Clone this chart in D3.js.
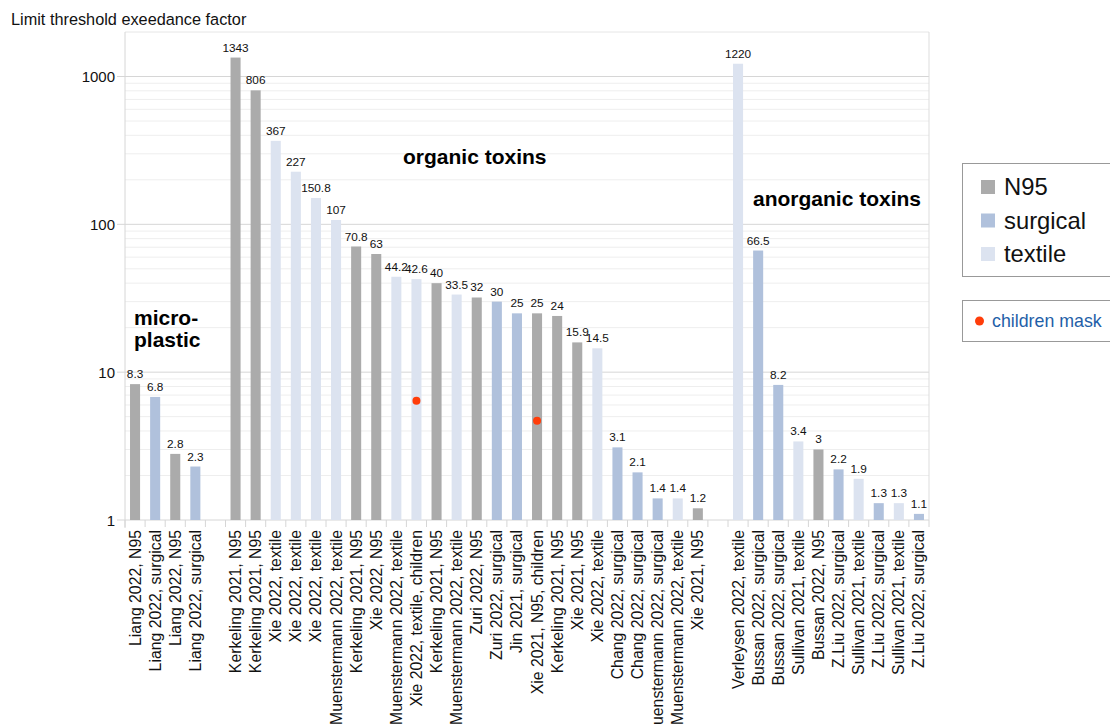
<!DOCTYPE html>
<html>
<head>
<meta charset="utf-8">
<script src="https://cdn.jsdelivr.net/npm/d3@7"></script>
<style>
body { margin: 0; background: #fff; font-family: "Liberation Sans", Arial, sans-serif; }
</style>
</head>
<body>
<div id="chart"></div>
<script>
// data
let labels = [
  "Liang 2022, N95", "Liang 2022, surgical", "Liang 2022, N95", "Liang 2022, surgical", "",
  "Kerkeling 2021, N95", "Kerkeling 2021, N95", "Xie 2022, textile", "Xie 2022, textile", "Xie 2022, textile",
  "Muenstermann 2022, textile", "Kerkeling 2021, N95", "Xie 2022, N95", "Muenstermann 2022, textile",
  "Xie 2022, textile, children", "Kerkeling 2021, N95", "Muenstermann 2022, textile", "Zuri 2022, N95",
  "Zuri 2022, surgical", "Jin 2021, surgical", "Xie 2021, N95, children", "Kerkeling 2021, N95",
  "Xie 2021, N95", "Xie 2022, textile", "Chang 2022, surgical", "Chang 2022, surgical",
  "Muenstermann 2022, surgical", "Muenstermann 2022, textile", "Xie 2021, N95", "",
  "Verleysen 2022, textile", "Bussan 2022, surgical", "Bussan 2022, surgical", "Sullivan 2021, textile",
  "Bussan 2022, N95", "Z.Liu 2022, surgical", "Sullivan 2021, textile", "Z.Liu 2022, surgical",
  "Sullivan 2021, textile", "Z.Liu 2022, surgical"
];
let values = [
  8.3, 6.8, 2.8, 2.3, null,
  1343, 806, 367, 227, 150.8, 107, 70.8, 63, 44.2, 42.6, 40, 33.5, 32, 30, 25, 25, 24, 15.9, 14.5,
  3.1, 2.1, 1.4, 1.4, 1.2, null,
  1220, 66.5, 8.2, 3.4, 3, 2.2, 1.9, 1.3, 1.3, 1.1
];
let valueText = [
  "8.3", "6.8", "2.8", "2.3", "",
  "1343", "806", "367", "227", "150.8", "107", "70.8", "63", "44.2", "42.6", "40", "33.5", "32", "30",
  "25", "25", "24", "15.9", "14.5", "3.1", "2.1", "1.4", "1.4", "1.2", "",
  "1220", "66.5", "8.2", "3.4", "3", "2.2", "1.9", "1.3", "1.3", "1.1"
];
let types = [
  "N95", "surgical", "N95", "surgical", "",
  "N95", "N95", "textile", "textile", "textile", "textile", "N95", "N95", "textile", "textile", "N95",
  "textile", "N95", "surgical", "surgical", "N95", "N95", "N95", "textile", "surgical", "surgical",
  "surgical", "textile", "N95", "",
  "textile", "surgical", "surgical", "textile", "N95", "surgical", "textile", "surgical", "textile", "surgical"
];
// children mask markers: category index and value
let childIdx = [14, 20];
let childVal = [6.4, 4.7];

let series = ["N95", "surgical", "textile"];
let colors = ["#ababab", "#b0c1dc", "#dce3f0"];
let yTicks = [1, 10, 100, 1000];

let width = 1110, height = 726;
let mLeft = 125, mRight = 929, mTop = 32, mBottom = 520;

let svg = d3.select("#chart").append("svg")
  .attr("width", width).attr("height", height);

let idx = d3.range(labels.length);
let x = d3.scaleBand().domain(idx).range([mLeft, mRight]).paddingInner(0.5).paddingOuter(0.25);
let y = d3.scaleLog().domain([1, 2000]).range([mBottom, mTop]);
let color = d3.scaleOrdinal().domain(series).range(colors);

// minor grid
let minor = [];
for (let d = 1; d <= 1000; d *= 10) {
  for (let k = 2; k <= 9; k++) if (d * k <= 2000) minor.push(d * k);
}
svg.append("g").selectAll("line").data(minor).enter().append("line")
  .attr("x1", mLeft).attr("x2", mRight)
  .attr("y1", d => y(d)).attr("y2", d => y(d))
  .attr("stroke", "#eeeeee").attr("stroke-width", 1);

// major grid
svg.append("g").selectAll("line").data(yTicks).enter().append("line")
  .attr("x1", mLeft - 8).attr("x2", mRight)
  .attr("y1", d => y(d)).attr("y2", d => y(d))
  .attr("stroke", "#d6d6d6").attr("stroke-width", 1);

// frame
svg.append("line").attr("x1", mLeft).attr("x2", mRight).attr("y1", mTop).attr("y2", mTop).attr("stroke", "#eeeeee");
svg.append("line").attr("x1", mRight).attr("x2", mRight).attr("y1", mTop).attr("y2", mBottom).attr("stroke", "#dddddd");
svg.append("line").attr("x1", mLeft).attr("x2", mLeft).attr("y1", mTop).attr("y2", mBottom + 8).attr("stroke", "#d6d6d6");

// y tick labels
svg.append("g").selectAll("text").data(yTicks).enter().append("text")
  .attr("x", mLeft - 10).attr("y", d => y(d) + 5.5)
  .attr("text-anchor", "end").attr("font-size", 15).attr("fill", "#111")
  .text(d => d);

// category ticks at the bottom
svg.append("g").selectAll("line").data(d3.range(labels.length + 1)).enter().append("line")
  .attr("x1", d => mLeft + d * (mRight - mLeft) / labels.length)
  .attr("x2", d => mLeft + d * (mRight - mLeft) / labels.length)
  .attr("y1", mBottom).attr("y2", mBottom + 7)
  .attr("stroke", "#d6d6d6");

// bars
let bi = idx.filter(i => values[i] !== null);
svg.append("g").selectAll("rect").data(bi).enter().append("rect")
  .attr("x", i => x(i)).attr("width", x.bandwidth())
  .attr("y", i => y(values[i])).attr("height", i => mBottom - y(values[i]))
  .attr("fill", i => color(types[i]));

// value labels
svg.append("g").selectAll("text").data(bi).enter().append("text")
  .attr("x", i => x(i) + x.bandwidth() / 2).attr("y", i => y(values[i]) - 6)
  .attr("text-anchor", "middle").attr("font-size", 11.8).attr("fill", "#111")
  .text(i => valueText[i]);

// x labels
svg.append("g").selectAll("text").data(bi).enter().append("text")
  .attr("transform", i => "translate(" + (x(i) + x.bandwidth() / 2 + 5.5) + "," + (mBottom + 10) + ") rotate(-90)")
  .attr("text-anchor", "end").attr("font-size", 15.8).attr("fill", "#111")
  .text(i => labels[i]);

// children mask dots
svg.append("g").selectAll("circle").data(childIdx).enter().append("circle")
  .attr("cx", (d) => x(d) + x.bandwidth() / 2)
  .attr("cy", (d, j) => y(childVal[j]))
  .attr("r", 4).attr("fill", "#ff3d0a");

// title
svg.append("text").attr("x", 11).attr("y", 25).attr("font-size", 16.3).attr("fill", "#111")
  .text("Limit threshold exeedance factor");

// group annotations
svg.append("text").attr("x", 134).attr("y", 325).attr("font-size", 21).attr("font-weight", "bold").text("micro-");
svg.append("text").attr("x", 134).attr("y", 347).attr("font-size", 21).attr("font-weight", "bold").text("plastic");
svg.append("text").attr("x", 403).attr("y", 164).attr("font-size", 21).attr("font-weight", "bold").text("organic toxins");
svg.append("text").attr("x", 753).attr("y", 206).attr("font-size", 21).attr("font-weight", "bold").text("anorganic toxins");

// legend
let lg = svg.append("g");
lg.append("rect").attr("x", 962.5).attr("y", 163.5).attr("width", 160).attr("height", 113)
  .attr("fill", "#fff").attr("stroke", "#999");
lg.selectAll("rect.k").data(series).enter().append("rect").attr("class", "k")
  .attr("x", 981).attr("y", (d, i) => 180 + i * 33.5).attr("width", 14).attr("height", 14)
  .attr("fill", d => color(d));
lg.selectAll("text").data(series).enter().append("text")
  .attr("x", 1004).attr("y", (d, i) => 195 + i * 33.5).attr("font-size", 23.8).attr("fill", "#111")
  .text(d => d);

let lg2 = svg.append("g");
lg2.append("rect").attr("x", 962.5).attr("y", 300.5).attr("width", 160).attr("height", 41)
  .attr("fill", "#fff").attr("stroke", "#999");
lg2.append("circle").attr("cx", 979.5).attr("cy", 321).attr("r", 4.5).attr("fill", "#ff3d0a");
lg2.append("text").attr("x", 992).attr("y", 327).attr("font-size", 17.8).attr("fill", "#1f5fa8").text("children mask");
</script>
</body>
</html>
